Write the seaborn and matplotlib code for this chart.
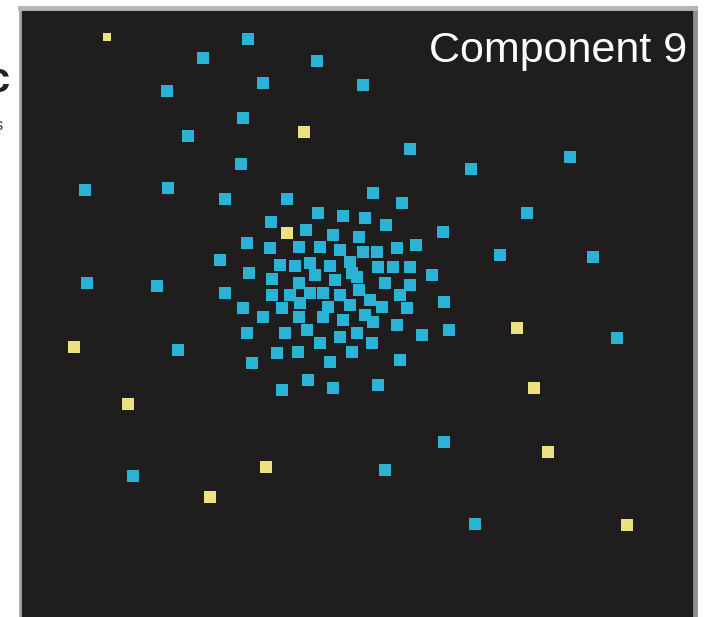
import matplotlib
matplotlib.use("Agg")
import matplotlib.pyplot as plt
import pandas as pd
import seaborn as sns

# Embedding coordinates of each cell (panel units, y grows downward)
core_x = [205, 267, 353, 382, 251, 298, 323, 345, 366, 423, 286, 227, 250, 279,
          300, 313, 339, 320, 343, 357, 377, 396, 200, 260, 275, 290, 310, 330,
          358, 373, 390, 412, 229, 252, 279, 295, 315, 337, 365, 390, 205, 252,
          270, 290, 303, 320, 339, 350, 380, 424, 223, 262, 280, 308, 330, 362,
          387, 243, 279, 303, 323, 353, 377, 429, 227, 265, 287, 320, 337, 402,
          300, 352, 257, 278, 332, 380, 232, 310, 262, 288, 313, 358, 332, 345]
core_y = [191, 191, 185, 195, 214, 205, 208, 210, 217, 224, 222, 235, 240, 239,
          239, 227, 229, 242, 244, 244, 240, 237, 252, 257, 258, 255, 258, 254,
          259, 259, 259, 267, 265, 271, 275, 267, 272, 269, 275, 277, 285, 287,
          287, 285, 285, 287, 282, 292, 287, 294, 300, 300, 295, 299, 297, 299,
          300, 309, 309, 309, 312, 314, 317, 322, 325, 325, 322, 329, 325, 327,
          335, 335, 345, 344, 344, 352, 355, 354, 382, 372, 380, 377, 265, 307]

outer_x = [228, 183, 297, 243, 147, 223, 168, 221, 65, 148, 343, 390, 451, 550,
           507, 480, 573, 67, 137, 158, 113, 597, 424, 455, 365]
outer_y = [31, 50, 53, 75, 83, 110, 128, 156, 182, 180, 77, 141, 161, 149,
           205, 247, 249, 275, 278, 342, 468, 330, 434, 516, 462]

flag_x = [87, 284, 267, 54, 108, 190, 246, 497, 514, 528, 607]
flag_y = [29, 124, 225, 339, 396, 489, 459, 320, 380, 444, 517]
flag_kind = ["faint"] + ["full"] * 10

cells = pd.concat([
    pd.DataFrame({"x": core_x + outer_x, "y": core_y + outer_y,
                  "state": "typical", "kind": "full"}),
    pd.DataFrame({"x": flag_x, "y": flag_y, "state": "outlier", "kind": flag_kind}),
], ignore_index=True)

state_colors = {"typical": "#2bb3d6", "outlier": "#ebe37f"}
kind_sizes = {"full": 74, "faint": 30}

sns.set_theme(style="white")
plt.rcParams["font.family"] = ["Liberation Sans", "DejaVu Sans"]

fig = plt.figure(figsize=(7.06, 6.17), dpi=100)
fig.patch.set_facecolor("white")
ax = fig.add_axes([20 / 706, 0, 675 / 706, 609 / 617])
ax.set_facecolor("#1f1d1e")

sns.scatterplot(data=cells, x="x", y="y", hue="state", palette=state_colors,
                size="kind", sizes=kind_sizes, marker="s", linewidth=0,
                legend=False, ax=ax)

ax.set_xlim(0, 675)
ax.set_ylim(609, 0)
ax.set_xticks([])
ax.set_yticks([])
ax.set_xlabel("")
ax.set_ylabel("")

for side in ("top", "right", "left", "bottom"):
    ax.spines[side].set_visible(True)
ax.spines["top"].set_color("#b4b4b4")
ax.spines["top"].set_linewidth(3.5)
ax.spines["right"].set_color("#8e8e8e")
ax.spines["right"].set_linewidth(3.5)
ax.spines["left"].set_color("#a8a8a8")
ax.spines["left"].set_linewidth(2.0)
ax.spines["bottom"].set_visible(False)

ax.text(0.988, 0.9113, "Component 9", transform=ax.transAxes,
        ha="right", va="baseline", color="white", fontsize=31)

# neighbouring panel labels clipped at the left margin
fig.text(9 / 706, 1 - 92 / 617, "c", ha="right", va="baseline",
         color="#222222", fontsize=30, fontweight="bold")
fig.text(3 / 706, 1 - 130 / 617, "s", ha="right", va="baseline",
         color="#333333", fontsize=12)

fig.savefig("out.png", dpi=100, facecolor="white")
